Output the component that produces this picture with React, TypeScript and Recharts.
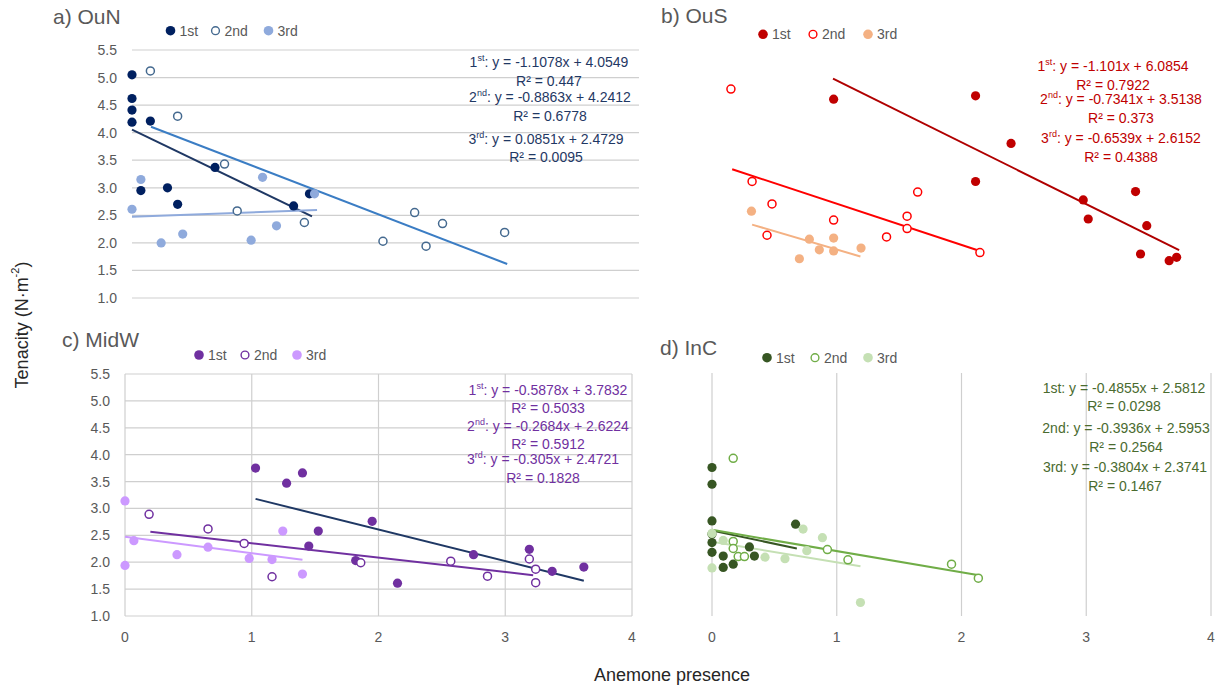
import React from 'react';
import { ScatterChart, Scatter, XAxis, YAxis, CartesianGrid, ReferenceLine } from 'recharts';

// ---------- data ----------
// a) OuN
const ouN1st = [{ x: 0, y: 5.05 }, { x: 0, y: 4.62 }, { x: 0, y: 4.41 }, { x: 0, y: 4.19 }, { x: 0.07, y: 2.95 }, { x: 0.145, y: 4.21 }, { x: 0.28, y: 3.0 }, { x: 0.36, y: 2.7 }, { x: 0.655, y: 3.37 }, { x: 1.275, y: 2.67 }, { x: 1.4, y: 2.89 }];
const ouN2nd = [{ x: 0.145, y: 5.12 }, { x: 0.36, y: 4.3 }, { x: 0.73, y: 3.43 }, { x: 0.83, y: 2.58 }, { x: 1.36, y: 2.37 }, { x: 1.98, y: 2.03 }, { x: 2.23, y: 2.55 }, { x: 2.32, y: 1.94 }, { x: 2.45, y: 2.35 }, { x: 2.94, y: 2.19 }];
const ouN3rd = [{ x: 0, y: 2.61 }, { x: 0.07, y: 3.15 }, { x: 0.23, y: 2.0 }, { x: 0.4, y: 2.16 }, { x: 0.94, y: 2.05 }, { x: 1.03, y: 3.19 }, { x: 1.14, y: 2.31 }, { x: 1.44, y: 2.89 }];
const ouNSlopes = [-1.1078, -0.8863, 0.0851];
const ouNIntercepts = [4.0549, 4.2412, 2.4729];
const ouNRanges = [[0, 1.42], [0.15, 2.96], [0, 1.46]];
const ouNR2 = ['0.447', '0.6778', '0.0095'];

// b) OuS
const ouS1st = [{ x: 0.985, y: 4.64 }, { x: 2.125, y: 4.7 }, { x: 2.41, y: 3.85 }, { x: 2.125, y: 3.17 }, { x: 2.99, y: 2.84 }, { x: 3.03, y: 2.5 }, { x: 3.41, y: 2.99 }, { x: 3.5, y: 2.38 }, { x: 3.45, y: 1.875 }, { x: 3.68, y: 1.755 }, { x: 3.74, y: 1.815 }];
const ouS2nd = [{ x: 0.16, y: 4.82 }, { x: 0.33, y: 3.17 }, { x: 0.49, y: 2.77 }, { x: 0.45, y: 2.21 }, { x: 0.985, y: 2.48 }, { x: 1.41, y: 2.18 }, { x: 1.575, y: 2.55 }, { x: 1.575, y: 2.33 }, { x: 1.66, y: 2.98 }, { x: 2.16, y: 1.9 }];
const ouS3rd = [{ x: 0.325, y: 2.64 }, { x: 0.79, y: 2.14 }, { x: 0.87, y: 1.95 }, { x: 0.985, y: 2.16 }, { x: 0.985, y: 1.93 }, { x: 0.71, y: 1.79 }, { x: 1.205, y: 1.98 }];
const ouSSlopes = [-1.101, -0.7341, -0.6539];
const ouSIntercepts = [6.0854, 3.5138, 2.6152];
const ouSRanges = [[0.98, 3.76], [0.17, 2.16], [0.33, 1.2]];
const ouSR2 = ['0.7922', '0.373', '0.4388'];

// c) MidW
const midW1st = [{ x: 1.03, y: 3.75 }, { x: 1.275, y: 3.47 }, { x: 1.4, y: 3.66 }, { x: 1.525, y: 2.58 }, { x: 1.45, y: 2.3 }, { x: 1.95, y: 2.76 }, { x: 1.82, y: 2.03 }, { x: 2.15, y: 1.61 }, { x: 2.75, y: 2.14 }, { x: 3.19, y: 2.24 }, { x: 3.37, y: 1.83 }, { x: 3.62, y: 1.91 }];
const midW2nd = [{ x: 0.19, y: 2.89 }, { x: 0.655, y: 2.62 }, { x: 0.94, y: 2.35 }, { x: 1.16, y: 1.73 }, { x: 1.86, y: 1.99 }, { x: 2.57, y: 2.02 }, { x: 2.86, y: 1.74 }, { x: 3.19, y: 2.06 }, { x: 3.24, y: 1.87 }, { x: 3.24, y: 1.62 }];
const midW3rd = [{ x: 0, y: 3.14 }, { x: 0, y: 1.94 }, { x: 0.07, y: 2.4 }, { x: 0.41, y: 2.14 }, { x: 0.655, y: 2.28 }, { x: 0.98, y: 2.07 }, { x: 1.16, y: 2.05 }, { x: 1.245, y: 2.58 }, { x: 1.4, y: 1.78 }];
const midWSlopes = [-0.5878, -0.2684, -0.305];
const midWIntercepts = [3.7832, 2.6224, 2.4721];
const midWRanges = [[1.03, 3.62], [0.2, 3.22], [0, 1.4]];
const midWR2 = ['0.5033', '0.5912', '0.1828'];

// d) InC
const inC1st = [{ x: 0, y: 3.75 }, { x: 0, y: 3.44 }, { x: 0, y: 2.76 }, { x: 0, y: 2.52 }, { x: 0, y: 2.36 }, { x: 0, y: 2.18 }, { x: 0.09, y: 2.11 }, { x: 0.09, y: 1.9 }, { x: 0.17, y: 1.96 }, { x: 0.3, y: 2.28 }, { x: 0.34, y: 2.11 }, { x: 0.67, y: 2.7 }];
const inC2nd = [{ x: 0.17, y: 3.92 }, { x: 0.17, y: 2.38 }, { x: 0.17, y: 2.25 }, { x: 0.21, y: 2.1 }, { x: 0.26, y: 2.1 }, { x: 0.925, y: 2.23 }, { x: 1.09, y: 2.04 }, { x: 1.92, y: 1.96 }, { x: 2.135, y: 1.7 }];
const inC3rd = [{ x: 0, y: 2.53 }, { x: 0, y: 1.89 }, { x: 0.09, y: 2.4 }, { x: 0.73, y: 2.61 }, { x: 0.76, y: 2.21 }, { x: 0.885, y: 2.45 }, { x: 0.425, y: 2.09 }, { x: 0.585, y: 2.06 }, { x: 1.19, y: 1.25 }];
const inCSlopes = [-0.4855, -0.3936, -0.3804];
const inCIntercepts = [2.5812, 2.5953, 2.3741];
const inCRanges = [[0, 0.68], [0, 2.14], [0, 1.19]];
const inCR2 = ['0.0298', '0.2564', '0.1467'];

const seriesNames = ['1st', '2nd', '3rd'];
const xTicks = [0, 1, 2, 3, 4];
const yTicks = [1, 1.5, 2, 2.5, 3, 3.5, 4, 4.5, 5, 5.5];

const FONT = '"Liberation Sans", Arial, sans-serif';
const GRID = '#cfcfcf';

type PanelProps = {
  left: number; top: number; width: number; height: number;
  margin: { top: number; right: number; bottom: number; left: number };
  yAxisWidth: number; xAxisHeight: number; showX: boolean; showY: boolean;
  datasets: { x: number; y: number }[][];
  colors: string[]; lineColors: string[]; openIdx: number;
  slopes: number[]; intercepts: number[]; ranges: number[][];
};

const dot = (color: string, open: boolean) => (p: any) => {
  if (p.cx == null || p.cy == null) return null;
  return open ? (
    <circle cx={p.cx} cy={p.cy} r={4} fill="#fff" stroke={color} strokeWidth={1.5} />
  ) : (
    <circle cx={p.cx} cy={p.cy} r={4.6} fill={color} stroke="none" />
  );
};

function Panel(props: PanelProps) {
  const { datasets, colors, lineColors, openIdx } = props;
  const tickStyle = { fill: '#595959', fontSize: 14, fontFamily: FONT };
  return (
    <div style={{ position: 'absolute', left: props.left, top: props.top }}>
      <ScatterChart width={props.width} height={props.height} margin={props.margin}>
        <CartesianGrid stroke={GRID} strokeWidth={1.2} horizontalValues={yTicks} verticalValues={xTicks} />
        <XAxis type="number" dataKey="x" domain={[0, 4]} ticks={xTicks}
          height={props.xAxisHeight} axisLine={false} tickLine={false} tickSize={0} tickMargin={16}
          tick={props.showX ? tickStyle : false} />
        <YAxis type="number" dataKey="y" domain={[1, 5.5]} ticks={yTicks}
          width={props.yAxisWidth} axisLine={false} tickLine={false} tickSize={0} tickMargin={15}
          tickFormatter={(v: number) => v.toFixed(1)}
          tick={props.showY ? tickStyle : false} />
        {datasets.map((_, i) => (
          <ReferenceLine key={'t' + i} stroke={lineColors[i]} strokeWidth={2}
            segment={[
              { x: props.ranges[i][0], y: props.slopes[i] * props.ranges[i][0] + props.intercepts[i] },
              { x: props.ranges[i][1], y: props.slopes[i] * props.ranges[i][1] + props.intercepts[i] },
            ]} />
        ))}
        {datasets.map((d, i) => (
          <Scatter key={'s' + i} name={seriesNames[i]} data={d} isAnimationActive={false}
            fill={colors[i]} shape={dot(colors[i], i === openIdx)} />
        ))}
      </ScatterChart>
    </div>
  );
}

type EqProps = { ys: number[]; color: string; slopes: number[]; intercepts: number[]; r2: string[]; sup: boolean; cxs: number[] };

const fmt = (v: number) => String(v);

function Equations({ ys, color, slopes, intercepts, r2, sup, cxs }: EqProps) {
  const sfx = ['st', 'nd', 'rd'];
  return (
    <g fontFamily={FONT} fontSize={14} fill={color} textAnchor="middle">
      {slopes.map((s, i) => (
        <React.Fragment key={i}>
          <text x={cxs[i]} y={ys[i * 2]} dominantBaseline="central">
            {sup ? (
              <>
                <tspan>{i + 1}</tspan>
                <tspan fontSize={9} dy={-4}>{sfx[i]}</tspan>
                <tspan dy={4}>{`: y = ${fmt(s)}x + ${fmt(intercepts[i])}`}</tspan>
              </>
            ) : (
              `${i + 1}${sfx[i]}: y = ${fmt(s)}x + ${fmt(intercepts[i])}`
            )}
          </text>
          <text x={cxs[i]} y={ys[i * 2 + 1]} dominantBaseline="central">{`R² = ${r2[i]}`}</text>
        </React.Fragment>
      ))}
    </g>
  );
}

function LegendRow({ x, y, offsets, colors, openIdx }: { x: number; y: number; offsets: number[]; colors: string[]; openIdx: number }) {
  return (
    <g fontFamily={FONT} fontSize={14} fill="#595959">
      {seriesNames.map((n, i) => (
        <g key={n}>
          {i === openIdx ? (
            <circle cx={x + offsets[i]} cy={y} r={3.9} fill="#fff" stroke={colors[i]} strokeWidth={1.4} />
          ) : (
            <circle cx={x + offsets[i]} cy={y} r={4.8} fill={colors[i]} />
          )}
          <text x={x + offsets[i] + 9} y={y} dominantBaseline="central">{n}</text>
        </g>
      ))}
    </g>
  );
}

export default function App() {
  return (
    <div style={{ position: 'absolute', left: 0, top: 0, width: 1219, height: 689, background: '#fff', overflow: 'hidden' }}>
      <Panel left={0} top={0} width={650} height={320}
        margin={{ top: 50, right: 11, bottom: 22, left: 0 }} yAxisWidth={132} xAxisHeight={0}
        showX={false} showY={true}
        datasets={[ouN1st, ouN2nd, ouN3rd]} colors={['#002060', '#44698f', '#8faadc']}
        lineColors={['#1f3864', '#3b7dc4', '#8faadc']} openIdx={1}
        slopes={ouNSlopes} intercepts={ouNIntercepts} ranges={ouNRanges} />
      <Panel left={640} top={0} width={579} height={320}
        margin={{ top: 51, right: 10, bottom: 17, left: 71 }} yAxisWidth={0} xAxisHeight={0}
        showX={false} showY={false}
        datasets={[ouS1st, ouS2nd, ouS3rd]} colors={['#c00000', '#ff0000', '#f4b183']}
        lineColors={['#b00000', '#ff0000', '#f4b183']} openIdx={1}
        slopes={ouSSlopes} intercepts={ouSIntercepts} ranges={ouSRanges} />
      <Panel left={0} top={320} width={660} height={335}
        margin={{ top: 54, right: 28, bottom: 0, left: 0 }} yAxisWidth={125} xAxisHeight={39}
        showX={true} showY={true}
        datasets={[midW1st, midW2nd, midW3rd]} colors={['#7030a0', '#7030a0', '#cc99ff']}
        lineColors={['#1f3864', '#7030a0', '#cc99ff']} openIdx={1}
        slopes={midWSlopes} intercepts={midWIntercepts} ranges={midWRanges} />
      <Panel left={640} top={320} width={579} height={335}
        margin={{ top: 53, right: 8, bottom: 0, left: 72 }} yAxisWidth={0} xAxisHeight={39}
        showX={true} showY={false}
        datasets={[inC1st, inC2nd, inC3rd]} colors={['#375623', '#70ad47', '#c5e0b4']}
        lineColors={['#375623', '#70ad47', '#c5e0b4']} openIdx={1}
        slopes={inCSlopes} intercepts={inCIntercepts} ranges={inCRanges} />
      <svg width={1219} height={689} style={{ position: 'absolute', left: 0, top: 0, pointerEvents: 'none' }}>
        <g fontFamily={FONT} fontSize={21} fill="#595959">
          <text x={53} y={24}>a) OuN</text>
          <text x={661} y={23}>b) OuS</text>
          <text x={62} y={347}>c) MidW</text>
          <text x={660} y={355}>d) InC</text>
        </g>
        <LegendRow x={170.5} y={30.7} offsets={[0, 45, 98]} colors={['#002060', '#44698f', '#8faadc']} openIdx={1} />
        <LegendRow x={763} y={34.3} offsets={[0, 50, 105]} colors={['#c00000', '#ff0000', '#f4b183']} openIdx={1} />
        <LegendRow x={199} y={355} offsets={[0, 46, 98]} colors={['#7030a0', '#7030a0', '#cc99ff']} openIdx={1} />
        <LegendRow x={767} y={357.7} offsets={[0, 48, 101]} colors={['#375623', '#70ad47', '#c5e0b4']} openIdx={1} />
        <g fontFamily={FONT} fontSize={18} fill="#262626" textAnchor="middle">
          <text x={672} y={675} dominantBaseline="central">Anemone presence</text>
          <text transform="translate(22,325) rotate(-90)" dominantBaseline="central">
            <tspan>Tenacity (N·m</tspan>
            <tspan fontSize={11} dy={-7}>-2</tspan>
            <tspan dy={7}>)</tspan>
          </text>
        </g>
        <Equations ys={[62, 81, 97, 116, 139, 157]} color="#1f3864"
          slopes={ouNSlopes} intercepts={ouNIntercepts} r2={ouNR2} sup={true} cxs={[549, 550, 546]} />
        <Equations ys={[66, 85, 99, 118, 138, 157]} color="#c00000"
          slopes={ouSSlopes} intercepts={ouSIntercepts} r2={ouSR2} sup={true} cxs={[1113, 1121, 1121]} />
        <Equations ys={[390, 408, 426, 444, 459, 478]} color="#7030a0"
          slopes={midWSlopes} intercepts={midWIntercepts} r2={midWR2} sup={true} cxs={[548, 548, 543]} />
        <Equations ys={[388, 406, 428, 447, 467, 486]} color="#4a6b2f"
          slopes={inCSlopes} intercepts={inCIntercepts} r2={inCR2} sup={false} cxs={[1124, 1126, 1125]} />
      </svg>
    </div>
  );
}
